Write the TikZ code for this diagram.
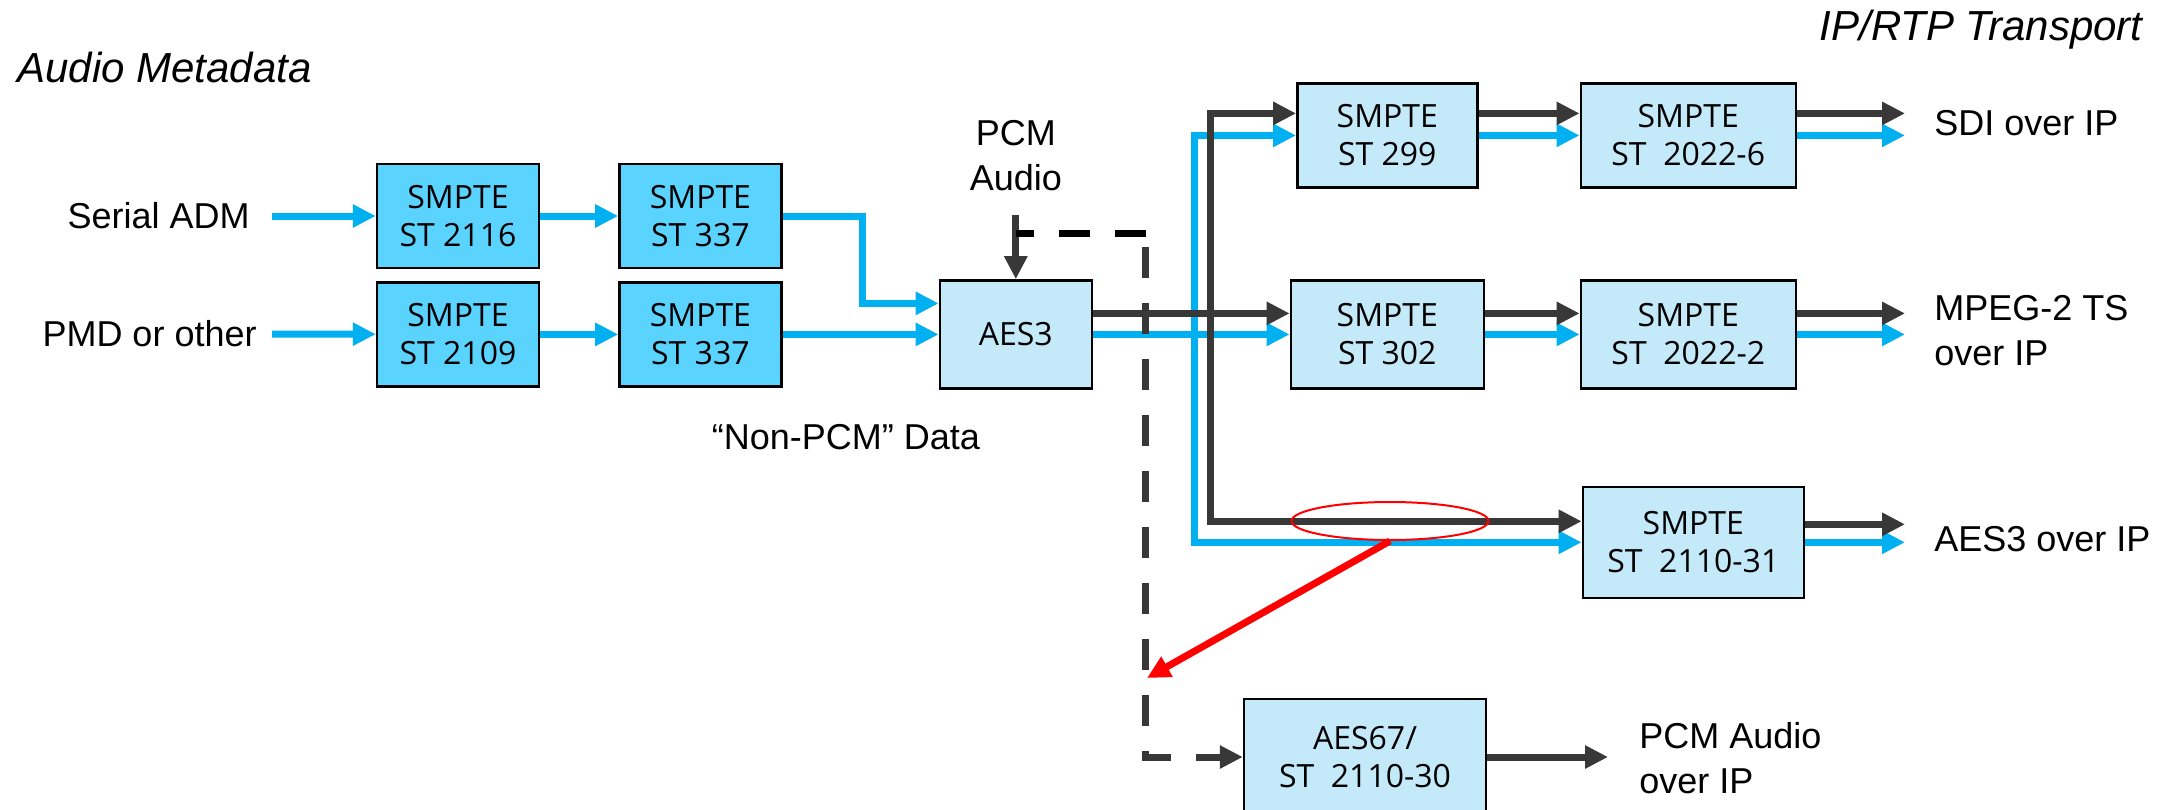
\documentclass[tikz,border=0pt]{standalone}
\usepackage{fontspec}
\setmainfont{Liberation Sans}
\newfontfamily\boxfont{Open Sans}
\usepackage{xcolor}
\usetikzlibrary{arrows.meta,positioning,calc,shapes.geometric}

\definecolor{feed}{HTML}{00B0F0}
\definecolor{metafill}{HTML}{5BD3FF}
\definecolor{ipfill}{HTML}{C4EAFA}
\definecolor{ink}{HTML}{383838}

\begin{document}
\begin{tikzpicture}[x=0.5pt,y=-0.5pt,>={Triangle[length=11.5pt,width=11pt]}]
\tikzstyle{meta}=[draw,line width=1.2pt,fill=metafill,align=center,inner sep=0pt,minimum width=81pt,minimum height=52pt,font=\boxfont\fontsize{16}{19}\selectfont]
\tikzstyle{ip}=[meta,fill=ipfill]
\tikzstyle{lbl}=[inner sep=0pt,align=left,font=\fontsize{18}{22.5}\selectfont]
\tikzstyle{hdr}=[inner sep=0pt,font=\itshape\fontsize{21}{25}\selectfont]
\tikzstyle{bl}=[->,feed,line width=3.5pt]
\tikzstyle{dk}=[->,ink,line width=3.5pt]
\tikzstyle{pcmdash}=[line width=3.5pt,dash pattern=on 15.5pt off 12.5pt]
\fill[white] (0,0) rectangle (2174,809);
\useasboundingbox (0,0) rectangle (2174,809);
\node[hdr,anchor=base west] (metahdr) at (17,82) {Audio Metadata};
\node[hdr,anchor=base east] (iphdr) at (2143,40) {IP/RTP Transport};

\node[meta] (s2116) at (458,216) {SMPTE\\ST 2116};
\node[meta,right=39pt of s2116] (s337a) {SMPTE\\ST 337};
\node[meta,below=6pt of s2116] (s2109) {SMPTE\\ST 2109};
\node[meta,right=39pt of s2109] (s337b) {SMPTE\\ST 337};
\node[ip,right=78pt of s337b,minimum width=76pt,minimum height=54pt] (aes) {AES3};
\node[lbl,align=center,above=44pt of aes] (pcm) {PCM\\Audio};
\node[lbl] (nonpcm) at (846,437) {“Non-PCM” Data};
\node[lbl,anchor=east] (serial) at (250,216) {Serial ADM};
\node[lbl,anchor=east] (pmd) at (257,334) {PMD or other};
\coordinate (inx) at (272,0);

\node[ip,right=98.3pt of aes,minimum width=96.5pt,minimum height=54pt] (s302) {SMPTE\\ST 302};
\node[ip,right=47.3pt of s302,minimum width=107.5pt,minimum height=54pt] (s20222) {SMPTE\\ST~~2022-2};
\node[ip,above=45.3pt of s302,minimum width=90pt] (s299) {SMPTE\\ST 299};
\node[ip,right=50.5pt of s299,minimum width=107.5pt] (s20226) {SMPTE\\ST~~2022-6};
\node[ip,below=48pt of s20222,xshift=2.5pt,minimum width=110.5pt,minimum height=55.5pt] (s211031) {SMPTE\\ST~~2110-31};
\node[ip,minimum width=121pt,minimum height=58pt] (aes67) at (1365,757) {AES67/\\ST~~2110-30};

\node[lbl,anchor=west] (sdi) at (1934,123) {SDI over IP};
\node[lbl,anchor=west] (mpeg) at (1934,331) {MPEG-2 TS\\over IP};
\node[lbl,anchor=west] (aesip) at (1934,539) {AES3 over IP};
\node[lbl,anchor=west] (pcmip) at (1639,758) {PCM Audio\\over IP};
\coordinate (outx) at (1905,0);

\draw[bl] (serial -| inx) -- (s2116);
\draw[bl] (pmd -| inx) -- (s2109);
\draw[bl] (s2116) -- (s337a);
\draw[bl] (s2109) -- (s337b);
\draw[bl] (s337a.east) -- ++(80,0) |- ([yshift=15.5pt]aes.west);
\draw[bl] (s337b) -- (aes);
\draw[dk,shorten <=12pt] (pcm) -- (aes);

\path (aes.east) ++(101,0) coordinate (bj);
\path ([yshift=10.5pt]aes.east) ++(117,0) coordinate (dj);
\draw[bl] (aes) -- (s302);
\draw[bl] (bj) |- (s299.west);
\draw[bl] (bj) |- (s211031.west);
\draw[bl] (s299) -- (s20226);
\draw[bl] (s302) -- (s20222);
\draw[bl] (s20226) -- (s20226 -| outx);
\draw[bl] (s20222) -- (s20222 -| outx);
\draw[bl] (s211031) -- (s211031 -| outx);

\draw[dk] ([yshift=10.5pt]aes.east) -- ([yshift=10.5pt]s302.west);
\draw[dk] (dj) |- ([yshift=11pt]s299.west);
\draw[dk] (dj) |- ([yshift=10.5pt]s211031.west);
\draw[dk] ([yshift=11pt]s299.east) -- ([yshift=11pt]s20226.west);
\draw[dk] ([yshift=10.5pt]s302.east) -- ([yshift=10.5pt]s20222.west);
\draw[dk] ([yshift=11pt]s20226.east) -- ([yshift=11pt]s20226.east -| outx);
\draw[dk] ([yshift=10.5pt]s20222.east) -- ([yshift=10.5pt]s20222.east -| outx);
\draw[dk] ([yshift=9pt]s211031.east) -- ([yshift=9pt]s211031.east -| outx);
\draw[dk,shorten >=15.5pt] (aes67) -- (aes67 -| pcmip.west);

\path (aes.north) ++(0,-46) coordinate (tap);
\path (tap) ++(130,0) coordinate (turn);
\draw[pcmdash,black] (turn) -- (tap);
\draw[pcmdash,ink,->] ([yshift=-7pt]turn) |- (aes67.west);

\node[draw=red,line width=1pt,ellipse,minimum width=98.5pt,minimum height=19pt,inner sep=0pt] (pick) at (1390,521) {};
\coordinate (hit) at (1147,678);
\draw[red,line width=3.5pt,->] (pick.south) -- (hit);
\end{tikzpicture}
\end{document}
